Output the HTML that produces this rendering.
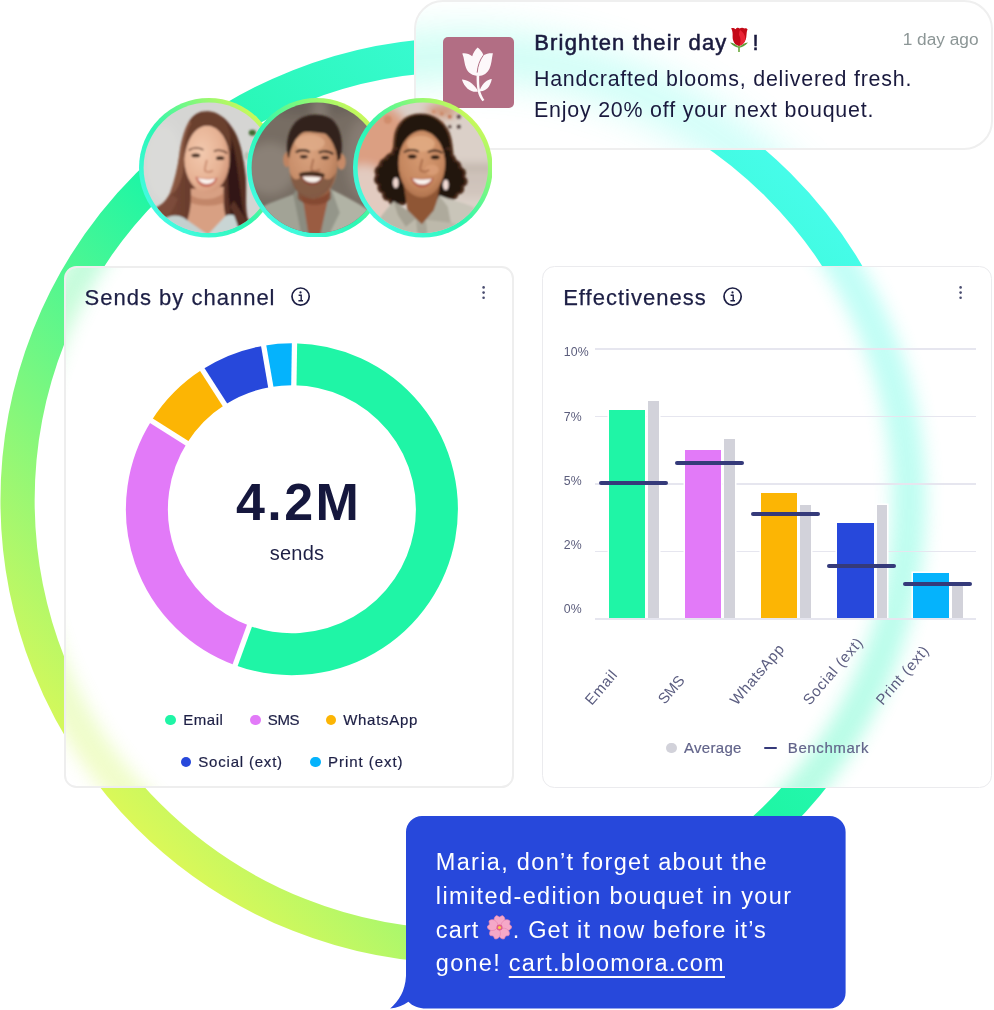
<!DOCTYPE html>
<html lang="en"><head><meta charset="utf-8"><title>Campaign analytics</title>
<style>
html,body{margin:0;padding:0;background:#fff}
body{width:994px;height:1010px;position:relative;overflow:hidden;font-family:"Liberation Sans",sans-serif;color:#1d1f45}
.abs,.ring,.card,.bar,.avg,.bench,.grid,.ylab,.xlab,.t{position:absolute}
.ring{left:0;top:0}
.card{background:#fff;border:1px solid #ebebeb;box-sizing:border-box;overflow:hidden}
.card .ring{filter:blur(9px);opacity:.32}
#note .ring{filter:blur(22px);opacity:.36}
.t{white-space:nowrap}
.bar{width:36.4px;box-shadow:0 0 0 1.5px #fff}
.avg{width:10.6px;background:#d2d2da;box-shadow:0 0 0 1.5px #fff}
.bench{width:69px;height:4px;border-radius:2px;background:#353a7a}
.grid{left:595.4px;width:380.4px;height:1.3px;background:#e6e6ef}
.ylab{left:563.8px;font-size:12.3px;line-height:16px;color:#5b5d7c;letter-spacing:.2px}
.xlab{font-size:15px;line-height:16px;color:#5b5d80;letter-spacing:.7px;transform-origin:0 100%;transform:rotate(-49.5deg);white-space:nowrap}
.dot{position:absolute;width:10.6px;height:10.6px;border-radius:50%}
.av{position:absolute;width:139.6px;height:139.6px}
.sms{font-size:23.5px;line-height:34px;letter-spacing:1.2px;color:#fff}
.leg{font-size:15px;line-height:20px;letter-spacing:.55px;color:#1d1f45;-webkit-text-stroke:.2px currentColor}
</style></head><body>
<svg width="0" height="0" style="position:absolute"><defs>
<linearGradient id="rg" gradientUnits="userSpaceOnUse" x1="135.3" y1="826.7" x2="788.7" y2="173.3">
<stop offset="0" stop-color="#dbf858"/><stop offset=".5" stop-color="#1ff6a5"/><stop offset="1" stop-color="#46fce9"/></linearGradient>
</defs></svg>
<svg class="ring"  width="994" height="1010" viewBox="0 0 994 1010"><circle cx="463.3" cy="500.5" r="445.75" fill="none" stroke="url(#rg)" stroke-width="34.2"/></svg>

<!-- notification card -->
<div class="card" id="note" style="left:414px;top:0px;width:578.6px;height:150px;border-radius:29px;border:2px solid #efefef">
<svg class="ring" style="left:-416px;top:-2px" width="994" height="1010" viewBox="0 0 994 1010"><circle cx="463.3" cy="500.5" r="445.75" fill="none" stroke="url(#rg)" stroke-width="34.2"/></svg>
<div class="abs" style="left:27.4px;top:35.2px;width:70.6px;height:70.6px;border-radius:5px;background:#b26e84">
<svg width="70.6" height="70.6" viewBox="0 0 70.6 70.6"><g fill="#fdf8fa">
<path d="M34.7 10.6 C37.5 12.8 39.6 15.6 40.4 18.2 C43 16.6 46.5 16 49.9 16.2 C48.6 22 48.6 27 46.6 31.5 C44.6 36 40.5 38.9 35.4 38.9 C29.5 38.9 25.2 36 23.2 31.3 C21.3 26.8 21.4 21.5 19.3 16.4 C23 16 26.6 17 29.2 19.2 C30.2 16 32.2 12.8 34.7 10.6Z"/>
<path d="M18.9 42.4 C24 42.6 29.8 45.6 34.2 52.6 L35 54.6 C28.6 56 21.6 51.2 18.9 42.4Z"/>
<path d="M48.8 42.1 C44.4 42.6 39.6 46 37 52.6 L36.6 54.2 C42.4 55 47.2 50.2 48.8 42.1Z"/>
<path d="M33.6 38.4 L36.2 38.4 C36 44 36.2 49.6 37.2 54 C38.2 57.6 39.6 60.4 41.4 62.9 L39.4 64.2 C37.2 61.4 35.6 58.2 34.8 54.4 C33.8 49.6 33.5 44 33.6 38.4Z"/>
</g><path d="M40.4 18.2 C36.8 23 34.6 29 34.2 35.6" fill="none" stroke="#b26e84" stroke-width="1"/></svg></div>
<div class="t" style="left:118.3px;top:25px;font-size:22px;line-height:32px;-webkit-text-stroke:.55px #1a1a3e;letter-spacing:1.15px;color:#1a1a3e">Brighten their day<svg width="20" height="26" viewBox="0 0 20 26" style="vertical-align:-3px;margin:0 3px 0 2px" role="img" aria-label="rose"><path d="M10 17.5V25" stroke="#6aa83a" stroke-width="1.6" fill="none"/><path d="M1 15.5C4.5 16 8 17.8 10 20.5C12 17.8 15.5 16 19 15.5C16 19 13 20.5 10 20.8C7 20.5 4 19 1 15.5Z" fill="#5c9e36"/><path d="M2.2 1.2C4 .8 5.6 1.6 6.6 2.2C7.6 .6 9.4 .4 10.6 1.4C12 .4 14.2 .4 15.4 1.4C16.6 .8 18 1.4 18.6 2.4C17.6 4 17.8 6 17.4 9C17.2 13.5 14 18.5 10 18.8C6 18.5 3.4 14 3.6 9.5C3.8 6.5 3.6 3.6 2.2 1.2Z" fill="#c40a18"/><path d="M11 3C14 5 16.4 8 16.4 12C16 15.6 13.4 18 10.6 18.6C12 15 12 11 10 8C10 6 10.4 4.4 11 3Z" fill="#ea2436"/></svg>!</div>
<div class="t" style="left:117.9px;top:61px;font-size:21.4px;line-height:32px;letter-spacing:.8px;color:#1a1a3e">Handcrafted blooms, delivered fresh.</div>
<div class="t" style="left:117.9px;top:92px;font-size:21.4px;line-height:32px;letter-spacing:.8px;color:#1a1a3e">Enjoy 20% off your next bouquet.</div>
<div class="t" style="left:486.7px;top:25.2px;font-size:17.3px;line-height:24px;color:#8c9696">1 day ago</div>
</div>

<!-- sends by channel -->
<div class="card" id="sends" style="left:64px;top:266px;width:450px;height:521.6px;border-radius:12.5px;border:2px solid #eeeeee">
<svg class="ring" style="left:-66px;top:-268px" width="994" height="1010" viewBox="0 0 994 1010"><circle cx="463.3" cy="500.5" r="445.75" fill="none" stroke="url(#rg)" stroke-width="34.2"/></svg>
</div>
<div class="t" style="left:84.6px;top:283.4px;font-size:22px;line-height:30px;letter-spacing:1px;-webkit-text-stroke:.25px #1d1f45">Sends by channel</div>
<svg class="abs" style="left:290px;top:285.8px" width="21" height="21" viewBox="0 0 21 21"><circle cx="10.6" cy="10.6" r="8.6" fill="none" stroke="#1d1f45" stroke-width="1.7"/><circle cx="10.5" cy="6.4" r="1.1" fill="#1d1f45"/><path d="M8.6 9.3H11.2V14.6M8.4 14.7H13" fill="none" stroke="#1d1f45" stroke-width="1.4"/></svg>
<svg class="abs" style="left:480px;top:283.6px" width="8" height="18" viewBox="0 0 8 18"><g fill="#4a4d70"><circle cx="3.6" cy="3.4" r="1.3"/><circle cx="3.6" cy="8.6" r="1.3"/><circle cx="3.6" cy="13.8" r="1.3"/></g></svg>
<svg class="abs" style="left:0;top:0" width="994" height="1010" viewBox="0 0 994 1010">
<path d="M294.18 364.22A145 145 0 1 1 242.31 645.46" fill="none" stroke="#1ff5a6" stroke-width="42"/>
<path d="M242.31 645.46A145 145 0 0 1 169.20 431.93" fill="none" stroke="#e27af8" stroke-width="42"/>
<path d="M169.20 431.93A145 145 0 0 1 213.57 387.18" fill="none" stroke="#fcb504" stroke-width="42"/>
<path d="M213.57 387.18A145 145 0 0 1 267.22 366.32" fill="none" stroke="#2748db" stroke-width="42"/>
<path d="M267.22 366.32A145 145 0 0 1 294.18 364.22" fill="none" stroke="#05b3fc" stroke-width="42"/>
<line x1="293.83" y1="386.22" x2="294.52" y2="342.22" stroke="#fff" stroke-width="5.3"/>
<line x1="249.83" y1="624.78" x2="234.78" y2="666.13" stroke="#fff" stroke-width="5.3"/>
<line x1="187.82" y1="443.66" x2="150.59" y2="420.21" stroke="#fff" stroke-width="5.3"/>
<line x1="225.45" y1="405.69" x2="201.68" y2="368.67" stroke="#fff" stroke-width="5.3"/>
<line x1="270.96" y1="387.99" x2="263.48" y2="344.64" stroke="#fff" stroke-width="5.3"/>
</svg>
<div class="t" style="left:226.4px;top:471.9px;width:142px;text-align:center;font-size:52px;line-height:60px;font-weight:bold;letter-spacing:2.4px;text-indent:2.4px;color:#15173d">4.2M</div>
<div class="t" style="left:257px;top:540px;width:80px;text-align:center;font-size:20px;line-height:26px;letter-spacing:.2px">sends</div>
<div class="dot" style="left:165.2px;top:714.7px;background:#1ff5a6"></div><div class="t leg" style="left:183.2px;top:709.9px">Email</div>
<div class="dot" style="left:250.3px;top:714.7px;background:#e27af8"></div><div class="t leg" style="left:267.7px;top:709.9px;letter-spacing:-.3px">SMS</div>
<div class="dot" style="left:325.8px;top:714.7px;background:#fcb504"></div><div class="t leg" style="left:343.2px;top:709.9px;letter-spacing:.7px">WhatsApp</div>
<div class="dot" style="left:180.9px;top:756.7px;background:#2748db"></div><div class="t leg" style="left:198.3px;top:752.1px;letter-spacing:.8px">Social (ext)</div>
<div class="dot" style="left:310.1px;top:756.7px;background:#05b3fc"></div><div class="t leg" style="left:328.1px;top:752.1px;letter-spacing:.95px">Print (ext)</div>

<!-- effectiveness -->
<div class="card" id="eff" style="left:542px;top:266px;width:450px;height:521.8px;border-radius:12.5px;border:1px solid #ebebee">
<svg class="ring" style="left:-543px;top:-267px" width="994" height="1010" viewBox="0 0 994 1010"><circle cx="463.3" cy="500.5" r="445.75" fill="none" stroke="url(#rg)" stroke-width="34.2"/></svg>
</div>
<div class="t" style="left:563.2px;top:283.4px;font-size:22px;line-height:30px;letter-spacing:1px;-webkit-text-stroke:.25px #1d1f45">Effectiveness</div>
<svg class="abs" style="left:721.8px;top:285.8px" width="21" height="21" viewBox="0 0 21 21"><circle cx="10.6" cy="10.6" r="8.6" fill="none" stroke="#1d1f45" stroke-width="1.7"/><circle cx="10.5" cy="6.4" r="1.1" fill="#1d1f45"/><path d="M8.6 9.3H11.2V14.6M8.4 14.7H13" fill="none" stroke="#1d1f45" stroke-width="1.4"/></svg>
<svg class="abs" style="left:956.5px;top:283.6px" width="8" height="18" viewBox="0 0 8 18"><g fill="#4a4d70"><circle cx="3.6" cy="3.4" r="1.3"/><circle cx="3.6" cy="8.6" r="1.3"/><circle cx="3.6" cy="13.8" r="1.3"/></g></svg>
<div class="grid" style="top:348.4px"></div><div class="grid" style="top:415.9px"></div><div class="grid" style="top:483.4px"></div><div class="grid" style="top:550.9px"></div>
<div class="ylab" style="top:344.2px">10%</div><div class="ylab" style="top:408.6px">7%</div><div class="ylab" style="top:473.0px">5%</div><div class="ylab" style="top:537.0px">2%</div><div class="ylab" style="top:601.2px">0%</div>
<div class="bar" style="left:608.9px;top:410.4px;height:207.2px;background:#1ff5a6"></div><div class="avg" style="left:648.2px;top:401.2px;height:216.4px"></div><div class="bench" style="left:599.1px;top:480.5px"></div>
<div class="bar" style="left:685px;top:449.6px;height:168.0px;background:#e27af8"></div><div class="avg" style="left:724.3px;top:438.9px;height:178.7px"></div><div class="bench" style="left:675.2px;top:460.8px"></div>
<div class="bar" style="left:761px;top:492.9px;height:124.7px;background:#fcb504"></div><div class="avg" style="left:800.3px;top:504.8px;height:112.8px"></div><div class="bench" style="left:751.2px;top:511.8px"></div>
<div class="bar" style="left:837.2px;top:523px;height:94.6px;background:#2748db"></div><div class="avg" style="left:876.5px;top:504.8px;height:112.8px"></div><div class="bench" style="left:827.4px;top:563.9px"></div>
<div class="bar" style="left:913.1px;top:573px;height:44.6px;background:#05b3fc"></div><div class="avg" style="left:952.4px;top:586.4px;height:31.2px"></div><div class="bench" style="left:903.3px;top:582.3px"></div>

<div class="grid" style="top:618.4px"></div>
<div class="xlab" style="left:594.0px;top:691.5px">Email</div><div class="xlab" style="left:666.6px;top:690.7px;letter-spacing:-.3px">SMS</div><div class="xlab" style="left:739.0px;top:691.5px">WhatsApp</div><div class="xlab" style="left:811.5px;top:692.3px">Social (ext)</div><div class="xlab" style="left:885.0px;top:692.3px">Print (ext)</div>
<div class="dot" style="left:666.2px;top:742.7px;background:#d2d2da"></div><div class="t leg" style="left:684px;top:737.9px;color:#62648a;letter-spacing:.3px">Average</div>
<div class="abs" style="left:764px;top:746.6px;width:12.6px;height:2.8px;border-radius:1.4px;background:#353a7a"></div><div class="t leg" style="left:787.8px;top:737.9px;color:#62648a;letter-spacing:.6px">Benchmark</div>

<svg width="0" height="0" style="position:absolute"><defs>
<linearGradient id="ag" x1=".12" y1=".88" x2=".88" y2=".12"><stop offset="0" stop-color="#46fbe6"/><stop offset=".42" stop-color="#2bf7b4"/><stop offset=".72" stop-color="#7cf87e"/><stop offset="1" stop-color="#d2f856"/></linearGradient>
<linearGradient id="b1" x1="0" y1="0" x2="1" y2="0"><stop offset="0" stop-color="#d9d9d7"/><stop offset="1" stop-color="#d0d0cc"/></linearGradient>
<linearGradient id="h1" x1="0" y1="0" x2="1" y2="0"><stop offset="0" stop-color="#7a4a37"/><stop offset=".4" stop-color="#663a2b"/><stop offset="1" stop-color="#4e2a1f"/></linearGradient>
<radialGradient id="f1" cx=".38" cy=".4" r=".75"><stop offset="0" stop-color="#f3c9ae"/><stop offset=".6" stop-color="#e6b294"/><stop offset="1" stop-color="#c98a6e"/></radialGradient>
<radialGradient id="f2" cx=".42" cy=".35" r=".75"><stop offset="0" stop-color="#d9a27e"/><stop offset=".6" stop-color="#c88e6a"/><stop offset="1" stop-color="#a8704e"/></radialGradient>
<radialGradient id="f3" cx=".5" cy=".38" r=".75"><stop offset="0" stop-color="#d69a72"/><stop offset=".6" stop-color="#c68860"/><stop offset="1" stop-color="#a06440"/></radialGradient>
<clipPath id="ac"><circle cx="65" cy="65" r="65.2"/></clipPath>
<filter id="abg" x="-20%" y="-20%" width="140%" height="140%"><feGaussianBlur stdDeviation="5"/></filter>
<filter id="ab" x="-5%" y="-5%" width="110%" height="110%"><feGaussianBlur stdDeviation="0.8"/></filter>
</defs></svg><div class="av" style="left:138.9px;top:98.0px"><svg width="139.6" height="139.6" viewBox="-4.8 -4.8 139.6 139.6">
<circle cx="65" cy="65" r="69.8" fill="url(#ag)"/>
<g clip-path="url(#ac)"><g filter="url(#abg)">
<rect x="-30" y="-30" width="190" height="190" fill="#d5d5d3"/>
<ellipse cx="20" cy="60" rx="20" ry="40" fill="#dadad8"/>

</g><g filter="url(#ab)">
<ellipse cx="108.6" cy="30" rx="3.6" ry="3" fill="#3f6a30"/><ellipse cx="103" cy="53" rx="2.4" ry="4" fill="#b9c0b4"/>
<path d="M65 8.6C56 8 50 11 45 19C40 28 37 40 35.6 52C34 64 31 78 26 91C22 99 17 103 10 106L14 134H118L104 116C101 104 103 90 102 74C100 56 97 40 91 29C85 18 76 9.4 65 8.6Z" fill="url(#h1)"/>
<path d="M72 14C82 20 88 34 91 50C94 66 96 84 98 100C99 108 101 114 103 118L92 128C84 110 84 80 84 60C84 44 80 28 72 14Z" fill="#2b1511" opacity=".85"/>
<path d="M45 19C40 28 37 40 35.6 52C34 64 31 78 26 91C30 92 36 84 39 70C42 54 42 34 50 20Z" fill="#9a664d" opacity=".6"/>
<path d="M47 86C48 100 46 112 42 122L64 132L84 120C80 110 79 98 80 84Z" fill="#d8a083"/>
<path d="M47 92C54 98 72 98 80 90L80 100C72 104 56 104 47 100Z" fill="#b97a5e" opacity=".7"/>
<ellipse cx="63.2" cy="56.4" rx="22.6" ry="33.6" fill="url(#f1)"/>
<path d="M65 8.6C54 9 46 18 42 34C40 42 40 50 40.6 56C42 44 46 32 54 26C58 23 62 22.6 64 22.6C72 23 80 28 84 40C86 46 86 52 85.8 58C88 46 88 34 84 24C80 14 73 8.6 65 8.6Z" fill="#6a3f2e"/>
<ellipse cx="52" cy="52.6" rx="4.4" ry="1.9" fill="#3a2218"/><ellipse cx="76.4" cy="55.4" rx="4.2" ry="1.9" fill="#3a2218"/>
<path d="M45 47.6C49 44.6 55 44.6 59.6 47M70 48.6C74 46.6 80 47.4 83.6 50.6" stroke="#5a3426" stroke-width="1.5" fill="none"/>
<path d="M63 57C62 63 60 66.6 61.6 68.4C64 69.6 67.6 69.2 69 67.6" stroke="#c98a6e" stroke-width="1.8" fill="none"/>
<path d="M51.6 73.6C57 75.6 68 76.6 74 74.6C72 81.6 66.4 84.6 62 84.2C57 84 53 80.6 51.6 73.6Z" fill="#c8705e"/>
<path d="M54 75C59 76.6 67 77 71.6 75.8C69.6 80 66 81.4 62.4 81.2C58.6 81.2 55.6 79 54 75Z" fill="#fbf3ee"/>
<path d="M16 120C24 112 32 111 40 115L64 132L60 134H14Z" fill="#c4d0cf"/>
<path d="M82 113C86 111 92 112 96 116L104 134H66L64 132Z" fill="#c9d5d4"/>
<path d="M26 91C22 99 17 103 10 106L12 120C22 118 30 108 34 96Z" fill="#7c4c3a"/>
<path d="M90 98C94 104 98 110 103 118L112 134H97C94 122 90 110 86 104Z" fill="#5a3226"/>
</g></g></svg></div>
<div class="av" style="left:246.9px;top:97.9px"><svg width="139.6" height="139.6" viewBox="-4.8 -4.8 139.6 139.6">
<circle cx="65" cy="65" r="69.8" fill="url(#ag)"/>
<g clip-path="url(#ac)"><g filter="url(#abg)">
<rect x="-30" y="-30" width="190" height="190" fill="#776d63"/>
<ellipse cx="18" cy="66" rx="26" ry="26" fill="#8b8177"/>
<ellipse cx="112" cy="56" rx="18" ry="40" fill="#867c72"/>
<ellipse cx="60" cy="0" rx="50" ry="14" fill="#6b625a"/>
<ellipse cx="68" cy="8" rx="8" ry="12" fill="#857c72"/>

</g><g filter="url(#ab)">
<path d="M8 106C16 100 28 97 41.4 91.4L50 110L58 134H-2Z" fill="#a2a396"/>
<path d="M80 87C92 93 104 99 116 107L132 134H68Z" fill="#b1b3a5"/>
<path d="M41.4 91.4L46 85L53 102L58 134H50Z" fill="#8b8c80"/>
<path d="M80 87L78 84L74 104L66 134H76L88 110Z" fill="#94968a"/>
<path d="M46 84L52 102L57 134H68L75 102L79 84Z" fill="#9a5c42"/>
<path d="M46 88C54 98 70 98 79 88L79 96C72 104 54 104 46 96Z" fill="#7f4630" opacity=".8"/>
<ellipse cx="35" cy="57" rx="3.6" ry="7.5" fill="#c08462"/><ellipse cx="89.6" cy="59" rx="4.4" ry="8" fill="#c68a68"/>
<path d="M36 54C33.4 38 37 24 47 16.6C56 10.4 70 10.4 79 16C88 22 92.4 38 88.6 56L84 60L40 58Z" fill="#33241c"/>
<ellipse cx="61.4" cy="61" rx="24.4" ry="34.6" fill="url(#f2)"/>
<ellipse cx="58" cy="40" rx="15" ry="8" fill="#e0ad8a" opacity=".8"/>
<path d="M38.4 70C40 84 47 95.4 60 96C73 96 81 85 84 70C80 77 75 79 71 74C67 70 53 70 49 74C45 79 41 77 38.4 70Z" fill="#7d5641" opacity=".9"/>
<path d="M47 71C52 67.6 68 67.8 73 71.6L72 75C66 72.6 54 72.4 48.4 74.6Z" fill="#3f2a1f"/>
<path d="M49 73.4C54 72.6 66 73 71 74.4C69 80.6 63.4 82.4 59.8 82.2C55.4 82 51 79.4 49 73.4Z" fill="#8c4a3a"/>
<path d="M50.6 74C55 73.4 65 73.8 69.6 74.8C67.4 79 63.4 80 60 79.8C56.4 79.6 52.4 77.6 50.6 74Z" fill="#f8f1ea"/>
<path d="M37.6 50C38.4 43 40 38.6 41.6 36C46 29.6 53 28.4 61 29.4C69 30.6 79 29.6 84.4 36C86.4 40 87.2 46 87.6 52C91 40 88 22.6 79 16C70 10.4 56 10.4 47 16.6C38 23 34.4 38 37.6 50Z" fill="#33241c"/>
<path d="M44 49.6C48 46.6 54 46.8 58 49.4M67 50C71 47.6 77.4 48 81.4 51.4" stroke="#33221a" stroke-width="2.2" fill="none"/>
<ellipse cx="52" cy="54" rx="4" ry="1.7" fill="#2e1f18"/><ellipse cx="73.4" cy="55" rx="4" ry="1.7" fill="#2e1f18"/>
<path d="M61.6 56C60.6 62 58.4 65.6 60 67.4C62.6 68.6 66.6 68.2 68.2 66.6" stroke="#a86e50" stroke-width="1.8" fill="none"/>
</g></g></svg></div>
<div class="av" style="left:352.8px;top:98.0px"><svg width="139.6" height="139.6" viewBox="-4.8 -4.8 139.6 139.6">
<circle cx="65" cy="65" r="69.8" fill="url(#ag)"/>
<g clip-path="url(#ac)"><g filter="url(#abg)">
<rect x="-30" y="-30" width="190" height="190" fill="#dbd0c8"/>
<ellipse cx="16" cy="36" rx="36" ry="36" fill="#db9f82"/>
<ellipse cx="6" cy="96" rx="30" ry="34" fill="#e2cbc0"/>
<rect x="98" y="62" width="40" height="7" fill="#b7aaa0"/><rect x="100" y="75" width="36" height="6" fill="#c2b6ad"/><rect x="100" y="86" width="32" height="6" fill="#c8bcb3"/>
<ellipse cx="84" cy="8" rx="16" ry="7" fill="#cf9474"/>

</g><g filter="url(#ab)">
<g opacity=".85"><circle cx="101" cy="14" r="2" fill="#3a2a28"/><circle cx="101" cy="24" r="2" fill="#3a2a28"/><circle cx="92" cy="24" r="1.8" fill="#4a3430"/><circle cx="92" cy="14" r="2" fill="#c06a4a"/><circle cx="84" cy="20" r="1.8" fill="#c8805e"/><circle cx="84" cy="11" r="1.8" fill="#c8805e"/><circle cx="76" cy="9" r="1.8" fill="#cf8a68"/><circle cx="30" cy="17" r="4" fill="#cf8a68"/></g>
<path d="M63 10.6C50 10.4 41 17 37 29C35 37 36 43 34 49C26 54 18 62 17.4 71C17 80 22 88 27 94C31 101 38 103 44 100C50 98 54 94 56 88L74 88C78 96 86 98 93 95C100 91 106 84 107.4 77C108 68 102 60 96 54C95 46 95 38 92 30C87 18 76 10.6 63 10.6Z" fill="#5a3724"/>
<path d="M63 12C51 12 43 18 39 30C37 38 38 44 36 50C29 55 21 63 20.4 71C20 79 24 86 29 92C33 98 38 100 44 98C49 96 53 92 55 86L75 86C79 93 86 95 92 92C98 89 104 83 105 76C105.6 68 100 61 94 55C93 47 93 39 90 31C85 19 75 12 63 12Z" fill="#24140f"/>
<circle cx="27.0" cy="61.1" r="5.5" fill="#4a2c1c"/><circle cx="22.2" cy="68.4" r="5.5" fill="#4a2c1c"/><circle cx="21.7" cy="76.8" r="5.5" fill="#4a2c1c"/><circle cx="25.1" cy="85.1" r="5.5" fill="#4a2c1c"/><circle cx="29.8" cy="92.5" r="5.5" fill="#4a2c1c"/><circle cx="36.4" cy="97.9" r="5.5" fill="#4a2c1c"/><circle cx="44.1" cy="97.6" r="5.0" fill="#4a2c1c"/><circle cx="32.8" cy="55.6" r="5.0" fill="#4a2c1c"/><circle cx="38.3" cy="49.2" r="4.5" fill="#4a2c1c"/><circle cx="98.0" cy="63.0" r="5.5" fill="#4a2c1c"/><circle cx="102.8" cy="70.3" r="5.5" fill="#4a2c1c"/><circle cx="104.3" cy="78.6" r="5.5" fill="#4a2c1c"/><circle cx="101.0" cy="86.0" r="5.5" fill="#4a2c1c"/><circle cx="95.2" cy="91.4" r="5.5" fill="#4a2c1c"/><circle cx="87.6" cy="93.9" r="5.5" fill="#4a2c1c"/><circle cx="93.2" cy="56.6" r="5.0" fill="#4a2c1c"/><circle cx="90.7" cy="49.2" r="4.5" fill="#4a2c1c"/><circle cx="80.9" cy="92.6" r="4.5" fill="#4a2c1c"/><circle cx="29.1" cy="61.8" r="4.9" fill="#24140f"/><circle cx="24.4" cy="68.7" r="4.9" fill="#24140f"/><circle cx="23.9" cy="76.7" r="4.9" fill="#24140f"/><circle cx="27.2" cy="84.5" r="4.9" fill="#24140f"/><circle cx="31.7" cy="91.5" r="4.9" fill="#24140f"/><circle cx="38.1" cy="96.5" r="4.9" fill="#24140f"/><circle cx="45.5" cy="95.9" r="4.4" fill="#24140f"/><circle cx="34.7" cy="56.7" r="4.4" fill="#24140f"/><circle cx="39.9" cy="50.7" r="3.9" fill="#24140f"/><circle cx="95.9" cy="63.7" r="4.9" fill="#24140f"/><circle cx="100.6" cy="70.5" r="4.9" fill="#24140f"/><circle cx="102.1" cy="78.3" r="4.9" fill="#24140f"/><circle cx="98.9" cy="85.3" r="4.9" fill="#24140f"/><circle cx="93.3" cy="90.3" r="4.9" fill="#24140f"/><circle cx="85.9" cy="92.5" r="4.9" fill="#24140f"/><circle cx="91.3" cy="57.7" r="4.4" fill="#24140f"/><circle cx="89.1" cy="50.7" r="3.9" fill="#24140f"/><circle cx="79.4" cy="91.0" r="3.9" fill="#24140f"/>
<path d="M46 82L50 110L64 122L78 108L82 82Z" fill="#8f5636"/>
<ellipse cx="64" cy="60.6" rx="23.4" ry="34" fill="url(#f3)"/>
<ellipse cx="63" cy="41" rx="14" ry="8" fill="#e2ab84" opacity=".85"/>
<ellipse cx="74" cy="67" rx="7" ry="5.4" fill="#dc9f78" opacity=".8"/>
<path d="M40.6 56C38.6 40 45 27 57 23.6C60 19 64 18.6 66 23C79 25 89.6 37 87.6 58C86 43 78 29.6 64.4 27.8C52 28.4 42.6 41 40.6 56Z" fill="#24140f"/>
<path d="M46 49.6C50 46.4 57 46.4 61 49M70 49.4C75 46.8 81 47.2 84.6 50.4" stroke="#2c1a14" stroke-width="1.8" fill="none"/>
<ellipse cx="54.4" cy="53.8" rx="4.4" ry="2" fill="#24140f"/><ellipse cx="77.4" cy="54.4" rx="4.4" ry="2" fill="#24140f"/>
<path d="M64.6 56C63.6 62 61.2 66 63 68C65.6 69.4 69.6 69 71.2 67" stroke="#a86a48" stroke-width="1.8" fill="none"/>
<path d="M52.6 74.6C58 76 70 76.4 76 75C74 82 68.4 85 64 84.8C59 84.6 54.6 81 52.6 74.6Z" fill="#b4604c"/>
<path d="M54.6 75.6C60 76.8 69 77 74 76C71.6 80.6 68 82 64 81.8C60 81.6 56.6 79.4 54.6 75.6Z" fill="#faf3ee"/>
<ellipse cx="38" cy="80" rx="2.8" ry="5.2" fill="#f0d8d0"/><ellipse cx="88" cy="82" rx="2.8" ry="5.2" fill="#f3dcd6"/>
<path d="M20 118C26 110 31 104 35.8 98.5L50 108L64 122L76 108L81.4 92.8C92 97 104 100 116 104.6L128 134H10Z" fill="#bdb9ab"/>
<path d="M81.4 92.8C92 97 104 100 116 104.6L126 128L93 120Z" fill="#c9c5b9"/>
<path d="M35.8 98.5L50 108L58 116L48 124L40 112Z" fill="#a5a193"/><path d="M81.4 92.8L76 108L68 117L93 120L90 104Z" fill="#aeaa9c"/>
<path d="M58 116L64 122L68 117L70 134H60Z" fill="#a9a597"/>
</g></g></svg></div>


<!-- sms bubble -->
<svg class="abs" style="left:380px;top:810px" width="480" height="200" viewBox="380 810 480 200"><path d="M422 816H829.6A16 16 0 0 1 845.6 832V992.5A16 16 0 0 1 829.6 1008.5H426C419 1008.5 412.5 1006 408.4 1001.7C403.5 1005.4 397 1007.8 390.2 1008.4C399 1001 405.2 991 406 976V832A16 16 0 0 1 422 816Z" fill="#2748db"/></svg>
<div class="t sms" style="left:435.8px;top:845px;letter-spacing:1.32px">Maria, don’t forget about the</div>
<div class="t sms" style="left:435.8px;top:878.8px;letter-spacing:1.39px">limited-edition bouquet in your</div>
<div class="t sms" style="left:435.8px;top:912.6px;letter-spacing:1.14px">cart <svg width="25" height="25" viewBox="-12.5 -12.5 25 25" style="vertical-align:-2.7px;margin:0 .6px 0 0" role="img" aria-label="cherry blossom"><g fill="#f5a8c8" stroke="#e884ae" stroke-width=".6"><g id="pt"><path d="M0 -1.5C-6.6 -3.4 -6.8 -10.4 -2.8 -12L0 -10.5L2.8 -12C6.8 -10.4 6.6 -3.4 0 -1.5Z"/></g><use href="#pt" transform="rotate(72)"/><use href="#pt" transform="rotate(144)"/><use href="#pt" transform="rotate(216)"/><use href="#pt" transform="rotate(288)"/></g><circle r="3" fill="#e25c8e"/><circle r="1.6" fill="#f6d04a"/></svg>. Get it now before it’s</div>
<div class="t sms" style="left:435.8px;top:946.4px;letter-spacing:1.27px">gone! <span style="text-decoration:underline;text-decoration-thickness:1.6px;text-underline-offset:4.5px">cart.bloomora.com</span></div>
</body></html>
